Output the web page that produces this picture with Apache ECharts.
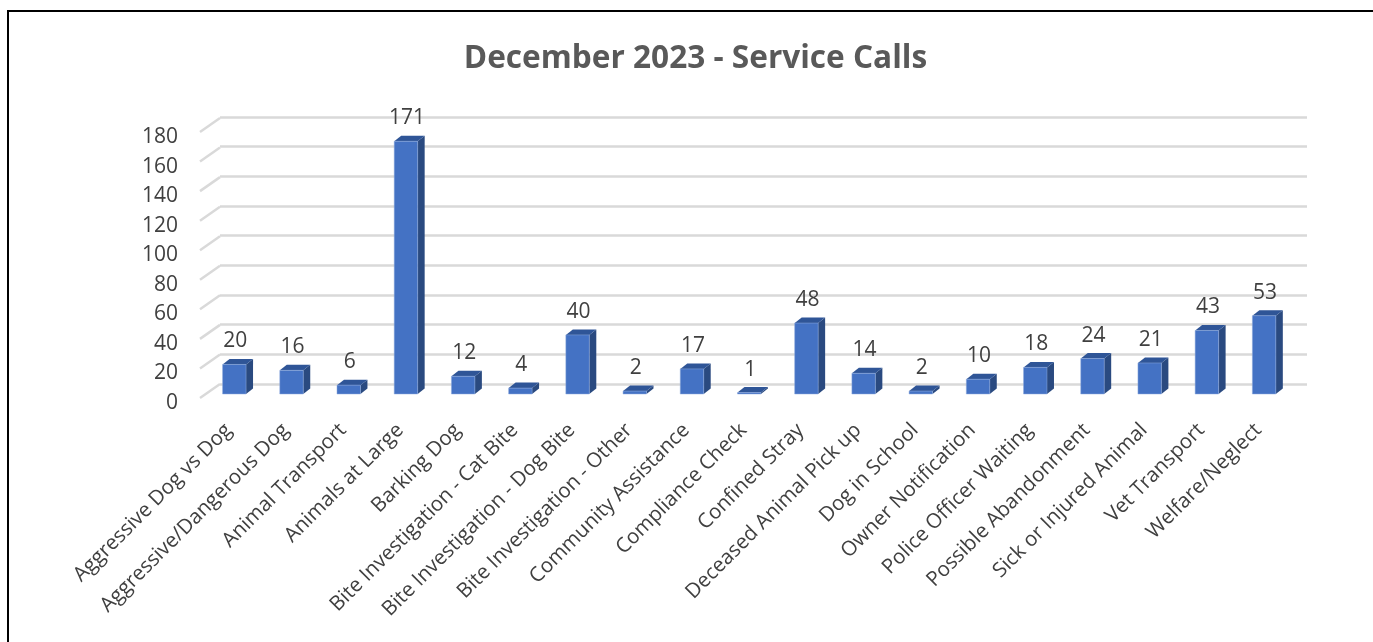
<!DOCTYPE html>
<html>
<head>
<meta charset="utf-8">
<title>December 2023 - Service Calls</title>
<script src="https://cdn.jsdelivr.net/npm/echarts@6/dist/echarts.min.js"></script>
<style>
    html, body { margin: 0; padding: 0; background: #fff; overflow: hidden; }
    #chart { width: 1373px; height: 642px; }
</style>
</head>
<body>
<div id="chart"></div>
<script>
var categories = ['Aggressive Dog vs Dog', 'Aggressive/Dangerous Dog', 'Animal Transport', 'Animals at Large',
    'Barking Dog', 'Bite Investigation - Cat Bite', 'Bite Investigation - Dog Bite', 'Bite Investigation - Other',
    'Community Assistance', 'Compliance Check', 'Confined Stray', 'Deceased Animal Pick up', 'Dog in School',
    'Owner Notification', 'Police Officer Waiting', 'Possible Abandonment', 'Sick or Injured Animal',
    'Vet Transport', 'Welfare/Neglect'];
var calls = [20, 16, 6, 171, 12, 4, 40, 2, 17, 1, 48, 14, 2, 10, 18, 24, 21, 43, 53];
var yTicks = [0, 20, 40, 60, 80, 100, 120, 140, 160, 180];

var fontName = '"Open Sans", sans-serif';
// the fake 3d: how far the back wall sits from the front plane
var wallX = 20, wallY = 14;

function renderBar(params, api) {
    var i = api.value(0);
    var top = api.coord([i, api.value(1)]);
    var base = api.coord([i, 0]);
    var w = api.size([1, 0])[0] * 0.41;
    var x0 = top[0] - w / 2 + 5.7;
    var x1 = x0 + w;
    var y0 = top[1] - 4;
    var y1 = base[1] - 4;
    var dx = 7, dy = 5.5;
    return {
        type: 'group',
        children: [
            { type: 'polygon', shape: { points: [[x1, y0], [x1 + dx, y0 - dy], [x1 + dx, y1 - dy], [x1, y1]] },
              style: { fill: '#2a4a80' } },
            { type: 'polygon', shape: { points: [[x0, y0], [x0 + dx, y0 - dy], [x1 + dx, y0 - dy], [x1, y0]] },
              style: { fill: '#2f5597' } },
            { type: 'rect', shape: { x: x0, y: y0, width: w, height: y1 - y0 },
              style: { fill: '#4472c4', stroke: '#8faadc', lineWidth: 0.5 } },
            { type: 'text', x: x0 + w / 2 + 1, y: y0 - 23,
              style: { text: String(api.value(1)), fill: '#404040', font: '21px ' + fontName,
                       align: 'center', verticalAlign: 'middle' } }
        ]
    };
}

function renderStub(params, api) {
    var y = api.coord([0, api.value(0)])[1];
    var x = params.coordSys.x;
    return {
        type: 'line',
        shape: { x1: x, y1: y, x2: x + wallX, y2: y - wallY },
        style: { stroke: '#d9d9d9', lineWidth: 2.5 }
    };
}

var chart = echarts.init(document.getElementById('chart'));
chart.setOption({
    animation: false,
    textStyle: { fontFamily: fontName },
    title: {
        text: 'December 2023 - Service Calls',
        left: 690.5,
        top: 38,
        textAlign: 'center',
        textStyle: { color: '#595959', fontSize: 31.6, fontWeight: 'bold', fontFamily: fontName }
    },
    graphic: [
        { type: 'rect', shape: { x: 7, y: 10, width: 1366, height: 2 }, style: { fill: '#000' }, silent: true },
        { type: 'rect', shape: { x: 7, y: 10, width: 2, height: 632 }, style: { fill: '#000' }, silent: true }
    ],
    grid: [
        { left: 200, top: 132, width: 1087, height: 266 },  // front plane
        { left: 220, top: 117, width: 1087, height: 267 },  // back wall
        { left: 200, top: 137, width: 1087, height: 266 }   // only carries the y labels
    ],
    xAxis: [
        {
            type: 'category', gridIndex: 0, data: categories,
            axisLine: { show: false }, axisTick: { show: false },
            axisLabel: { rotate: 45, interval: 0, margin: 29, fontSize: 20.5, color: '#404040' }
        },
        {
            type: 'category', gridIndex: 1, data: categories,
            axisLine: { show: false }, axisTick: { show: false }, axisLabel: { show: false }
        },
        {
            type: 'category', gridIndex: 2, data: categories,
            axisLine: { show: false }, axisTick: { show: false }, axisLabel: { show: false }
        }
    ],
    yAxis: [
        {
            type: 'value', gridIndex: 0, min: 0, max: 180, interval: 20,
            axisLine: { show: false }, axisTick: { show: false }, splitLine: { show: false }, axisLabel: { show: false }
        },
        {
            type: 'value', gridIndex: 1, min: 0, max: 180, interval: 20,
            axisLine: { show: false }, axisTick: { show: false }, axisLabel: { show: false },
            splitLine: { lineStyle: { color: '#d9d9d9', width: 2.5 } }
        },
        {
            type: 'value', gridIndex: 2, min: 0, max: 180, interval: 20,
            axisLine: { show: false }, axisTick: { show: false }, splitLine: { show: false },
            axisLabel: { margin: 22, fontSize: 21, color: '#404040' }
        }
    ],
    series: [
        {
            type: 'custom', xAxisIndex: 0, yAxisIndex: 0, renderItem: renderStub, silent: true,
            encode: { y: 0 },
            data: yTicks.map(function (v) { return [v]; })
        },
        {
            type: 'custom', xAxisIndex: 0, yAxisIndex: 0, renderItem: renderBar, z: 5,
            encode: { x: 0, y: 1 },
            data: calls.map(function (v, i) { return [i, v]; })
        }
    ]
});
</script>
</body>
</html>
